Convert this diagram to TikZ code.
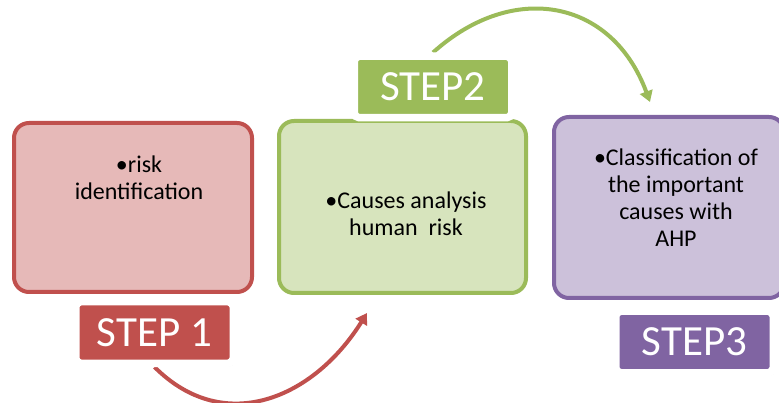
\documentclass[tikz,border=0pt]{standalone}
\usepackage{fontspec}
\setmainfont{Carlito}
\usetikzlibrary{arrows.meta,shadows,backgrounds}

\definecolor{redLine}{HTML}{C0504D}
\definecolor{redFill}{HTML}{E6B9B8}
\definecolor{greenLine}{HTML}{9BBB59}
\definecolor{greenFill}{HTML}{D7E4BD}
\definecolor{purpleLine}{HTML}{8064A2}
\definecolor{purpleFill}{HTML}{CCC1DA}

\tikzset{
    stepBox/.style={rounded corners=15pt, line width=4pt},
    stepTag/.style={fill=#1, draw=white, line width=7.5pt, rounded corners=5pt,
        minimum width=157.5pt, minimum height=61.5pt, inner sep=0pt,
        text=white, font=\fontsize{43}{50}\selectfont,
        drop shadow={opacity=0.4, shadow xshift=1pt, shadow yshift=-2.5pt, shadow scale=1.01}},
    stepArrow/.style={line width=4pt, draw=#1, -{Triangle[length=11pt,width=13pt,fill=#1]}},
    boxText/.style={align=center, inner sep=0pt, anchor=north,
        font=\fontsize{24}{27}\selectfont}
}

\begin{document}
\begin{tikzpicture}[x=1pt, y=-1pt]
    \useasboundingbox (0,0) rectangle (779,403);
    \clip (0,0) rectangle (779,403);

    % Define the positions of the boxes and tags
    \coordinate (box1Pos) at (133, 207.5);
    \coordinate (box2Pos) at (402.5, 207);
    \coordinate (box3Pos) at (669, 207.5);
    \coordinate (tag1Pos) at (154.5, 332.5);
    \coordinate (tag2Pos) at (433, 87);
    \coordinate (tag3Pos) at (694.5, 342);
    \coordinate (redEnd) at (367, 313);
    \coordinate (greenEnd) at (650, 102);

    % Draw the boxes
    \node[stepBox, draw=redLine, fill=redFill, minimum width=238pt, minimum height=169pt] (box1) at (box1Pos) {};
    \node[stepBox, draw=greenLine, fill=greenFill, minimum width=247pt, minimum height=172pt] (box2) at (box2Pos) {};
    \node[stepBox, draw=purpleLine, fill=purpleFill, minimum width=230pt, minimum height=181pt] (box3) at (box3Pos) {};

    % Draw the box texts
    \node[boxText] (text1) at (139, 156) {•risk\\identification};
    \node[boxText] (text2) at (406, 192) {•Causes analysis\\human\ \ risk};
    \node[boxText] (text3) at (676, 149) {•Classification of\\the important\\causes with\\AHP};

    % Draw the tags
    \node[stepTag=redLine] (tag1) at (tag1Pos) {STEP 1};
    \node[stepTag=greenLine] (tag2) at (tag2Pos) {STEP2};
    \node[stepTag=purpleLine] (tag3) at (tag3Pos) {STEP3};

    % Draw the arrows (behind the tags)
    \begin{pgfonlayer}{background}
        \draw[stepArrow=redLine] (tag1.south)
            .. controls +(70, 70) and +(-53, 85) .. (redEnd);
        \draw[stepArrow=greenLine] (tag2.north)
            .. controls +(80, -72) and +(-38, -103) .. (greenEnd);
    \end{pgfonlayer}
\end{tikzpicture}
\end{document}
